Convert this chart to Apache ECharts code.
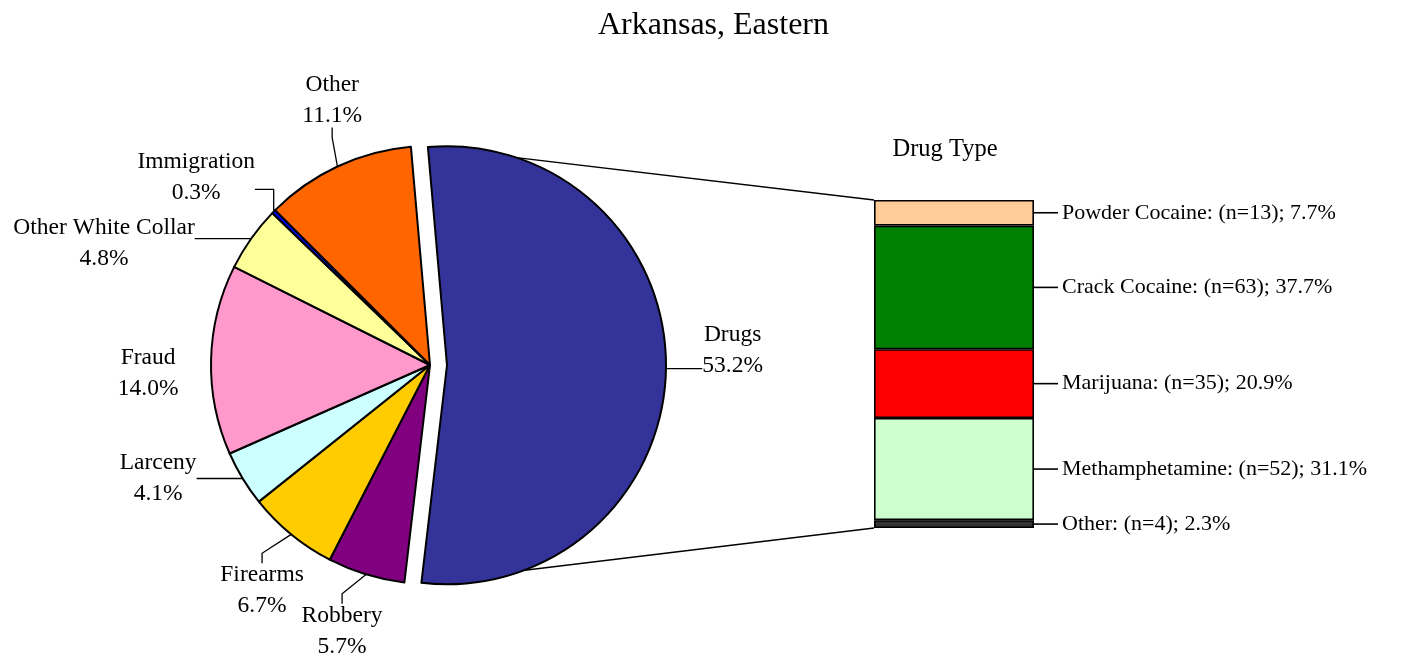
<!DOCTYPE html>
<html><head><meta charset="utf-8">
<script src="https://cdn.jsdelivr.net/npm/echarts@6/dist/echarts.min.js"></script>
<style>html,body{margin:0;padding:0;background:#fff}#c{width:1427px;height:662px}</style>
</head><body><div id="c"></div>
<script>
// ---------------- data ----------------
const chartTitle = 'Arkansas, Eastern';
const barTitle = 'Drug Type';
const offenseNames = ['Drugs','Robbery','Firearms','Larceny','Fraud','Other White Collar','Immigration','Other'];
const offensePct = [53.2, 5.7, 6.7, 4.1, 14.0, 4.8, 0.3, 11.1];
const drugNames = ['Powder Cocaine','Crack Cocaine','Marijuana','Methamphetamine','Other'];
const drugCounts = [13, 63, 35, 52, 4];
const drugPct = [7.7, 37.7, 20.9, 31.1, 2.3];

// ---------------- styles / layout ----------------
const offenseColors = ['#333399','#800080','#FFCC00','#CCFFFF','#FF99CC','#FFFF99','#0000FF','#FF6600'];
const drugColors = ['#FFCC99','#008000','#FF0000','#CCFFCC','#333333'];
const FONT = '"Liberation Serif", "Times New Roman", serif';
const LABEL_SIZE = 23.5, LABEL_LH = 31;
const C = [430, 365], R = 219, START = 95, EXPLODE = 17;
const GRID = {left: 874, top: 200, width: 160, height: 328};
// label placement per slice: [compass angle (deg), distance from slice centre (px)]
const labelPolar = [[87,286],[198.3,280],[216.7,281],[247.4,294.5],[268.4,282],[290.5,348],[308.8,300],[339.7,282]];
const noLeader = [4];

// ---------------- geometry from data ----------------
const total = offensePct.reduce((a,b)=>a+b,0);
const startCompass = 90 - START;
const angles = []; let cum = 0;
offensePct.forEach(v => { const a0 = startCompass + cum/total*360; cum += v; const a1 = startCompass + cum/total*360; angles.push([a0,a1,(a0+a1)/2]); });
const u = d => { const r = d*Math.PI/180; return [Math.sin(r), -Math.cos(r)]; };
const uMid0 = u(angles[0][2]);
const Cd = [C[0] + EXPLODE*uMid0[0], C[1] + EXPLODE*uMid0[1]];
const centreOf = i => i === 0 ? Cd : C;

function pieLabelLayout(params) {
  const i = params.dataIndex;
  const cc = centreOf(i);
  const lp = labelPolar[i];
  const lu = u(lp[0]);
  const L = [cc[0] + lp[1]*lu[0], cc[1] + lp[1]*lu[1]];
  const mu = u(angles[i][2]);
  const E = [cc[0] + R*mu[0], cc[1] + R*mu[1]];
  const w = params.labelRect.width, h = params.labelRect.height;
  const dx = E[0]-L[0], dy = E[1]-L[1];
  let A, B;
  if (Math.abs(dx)/(w/2) > Math.abs(dy)/(h/2)) {
    const s = Math.sign(dx);
    const inside = Math.abs(E[1]-L[1]) <= h/2;
    const ay = inside ? E[1] : Math.min(Math.max(E[1], L[1]-h/5), L[1]+h/5);
    A = [L[0] + s*w/2, ay];
    B = Math.abs(E[1]-ay) > 10 ? [E[0], ay] : [A[0] + s*12, ay];
  } else {
    const s = Math.sign(dy);
    A = [L[0], L[1] + s*(h/2 - 4)]; B = [L[0], A[1] + s*10];
  }
  const pts = noLeader.indexOf(i) >= 0 ? [A, A, A] : [E, B, A];
  return {x: L[0], y: L[1], align: 'center', verticalAlign: 'middle', labelLinePoints: pts};
}

function pieData(showIdx) {
  return offenseNames.map((n, i) => {
    const vis = showIdx(i);
    return {
      name: n, value: offensePct[i],
      itemStyle: vis ? {color: offenseColors[i], borderColor: '#000', borderWidth: 2}
                     : {color: 'rgba(0,0,0,0)', borderWidth: 0},
      label: {show: vis},
      labelLine: {show: vis}
    };
  });
}

const pieCommon = {
  type: 'pie', radius: R, startAngle: START, clockwise: true,
  avoidLabelOverlap: false, silent: true, emphasis: {disabled: true},
  label: {show: true, position: 'outside', color: '#000', fontFamily: FONT, fontSize: LABEL_SIZE,
          lineHeight: LABEL_LH, align: 'center',
          formatter: p => p.name + '\n' + p.value.toFixed(1) + '%'},
  labelLine: {show: true, lineStyle: {color: '#000', width: 1.3}},
  labelLayout: pieLabelLayout
};

const drugTotal = drugCounts.reduce((a,b)=>a+b,0);
const barSeries = drugNames.map((n, i) => ({
  type: 'bar', name: n, stack: 'drugs', barWidth: '100%', silent: true,
  emphasis: {disabled: true},
  data: [drugCounts[i]],
  itemStyle: {color: drugColors[i], borderColor: '#000', borderWidth: 1.6},
  label: {show: true, position: 'right', distance: 0, color: '#000',
    formatter: '{l|}{t|' + n + ': (n=' + drugCounts[i] + '); ' + drugPct[i].toFixed(1) + '%}',
    rich: {l: {width: 24, height: 1.6, backgroundColor: '#000'},
           t: {fontFamily: FONT, fontSize: 22, padding: [0,0,0,4], color: '#000'}}}
}));

const chart = echarts.init(document.getElementById('c'), null, {renderer: 'canvas'});
chart.setOption({
  animation: false,
  backgroundColor: '#fff',
  title: {text: chartTitle, left: 'center', top: 5,
          textStyle: {fontFamily: FONT, fontSize: 32, fontWeight: 'normal', color: '#000'}},
  grid: GRID,
  xAxis: {type: 'category', data: ['Drugs'], show: false},
  yAxis: {type: 'value', inverse: true, min: 0, max: drugTotal, show: false},
  series: [
    Object.assign({}, pieCommon, {center: C, data: pieData(i => i !== 0)}),
    Object.assign({}, pieCommon, {center: Cd, data: pieData(i => i === 0)})
  ].concat(barSeries)
});

// connector lines and bar heading
const yTop = chart.convertToPixel({yAxisIndex: 0}, 0);
const yBot = chart.convertToPixel({yAxisIndex: 0}, drugTotal);
const u0 = u(angles[0][0]), u1 = u(angles[0][1]);
const Pt = [Cd[0] + R*u0[0], Cd[1] + R*u0[1]];
const Pb = [Cd[0] + R*u1[0], Cd[1] + R*u1[1]];
chart.setOption({
  graphic: [
    {type: 'line', shape: {x1: Pt[0], y1: Pt[1], x2: GRID.left, y2: yTop}, style: {stroke: '#000', lineWidth: 1.3}, silent: true},
    {type: 'line', shape: {x1: Pb[0], y1: Pb[1], x2: GRID.left, y2: yBot}, style: {stroke: '#000', lineWidth: 1.3}, silent: true},
    {type: 'text', x: GRID.left + GRID.width/2 - 9, y: 150, silent: true,
     style: {text: barTitle, fill: '#000', font: '24.5px ' + FONT, textAlign: 'center', textVerticalAlign: 'middle'}}
  ]
});
</script></body></html>
